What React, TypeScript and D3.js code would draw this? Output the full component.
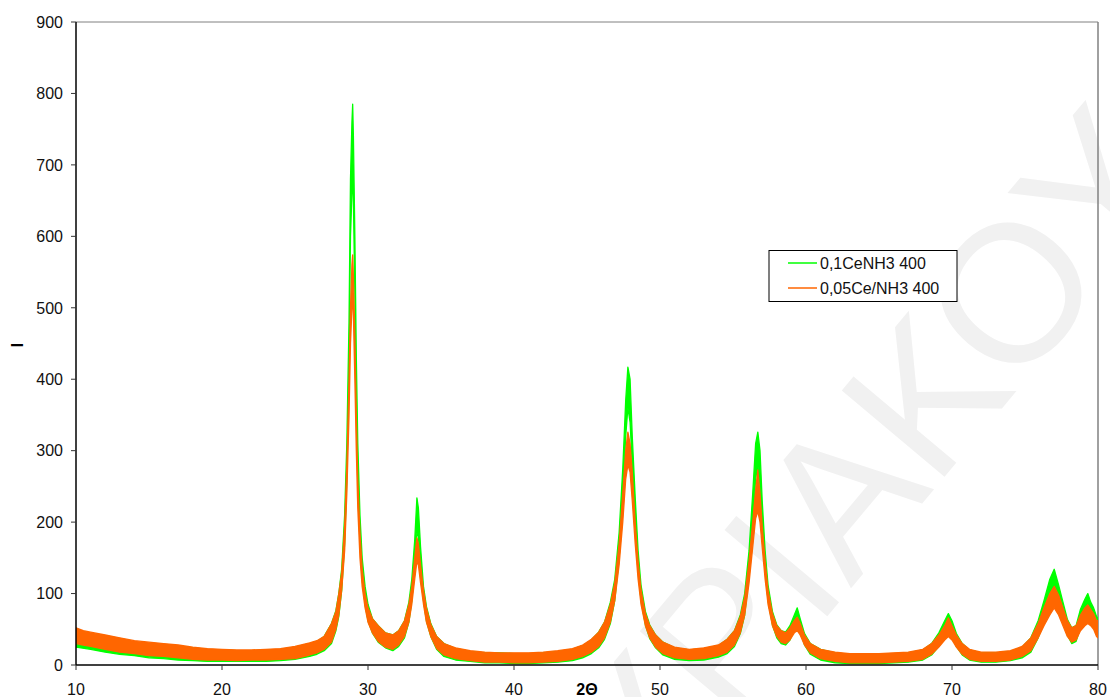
import React from "react";
import * as d3 from "d3";

// Axis ranges and ticks
const twoThetaDomain: [number, number] = [10, 80];
const intensityDomain: [number, number] = [0, 900];
const xTicks = [10, 20, 30, 40, 50, 60, 70, 80];
const yTicks = [0, 100, 200, 300, 400, 500, 600, 700, 800, 900];

const seriesNames = ["0,1CeNH3 400", "0,05Ce/NH3 400"];
const seriesColors = ["#00ff00", "#ff6600"];

// Each row: [2θ, lower edge of the noisy trace, upper edge of the noisy trace]
const ce01NH3: [number, number, number][] = [
  [10, 25, 50], [11, 22, 44], [12, 18, 40], [13, 15, 36], [14, 13, 32], [15, 10, 30],
  [16, 9, 28], [17, 7, 26], [18, 6, 24], [19, 5, 22], [20, 5, 21], [21, 5, 20],
  [22, 5, 20], [23, 5, 21], [24, 6, 22], [25, 8, 25], [26, 12, 30], [26.5, 15, 33],
  [27, 20, 40], [27.5, 30, 58], [27.8, 48, 76], [28.0, 68, 100], [28.2, 105, 135],
  [28.4, 170, 210], [28.55, 260, 310], [28.7, 420, 480], [28.8, 600, 680],
  [28.9, 660, 760], [28.95, 700, 785], [29.0, 650, 740], [29.1, 520, 600],
  [29.2, 380, 430], [29.3, 270, 310], [29.45, 170, 210], [29.6, 120, 150],
  [29.8, 85, 110], [30.0, 62, 85], [30.3, 45, 65], [30.7, 32, 55], [31.2, 24, 45],
  [31.7, 20, 42], [32.1, 26, 48], [32.5, 38, 62], [32.8, 60, 88], [33.0, 90, 120],
  [33.2, 140, 175], [33.35, 185, 234], [33.45, 180, 220], [33.6, 135, 165],
  [33.8, 90, 110], [34.0, 62, 82], [34.3, 40, 58], [34.7, 22, 40], [35.2, 12, 30],
  [36, 7, 23], [37, 5, 19], [38, 3, 17], [39, 3, 17], [40, 2, 16], [41, 2, 16],
  [42, 3, 17], [43, 4, 19], [44, 6, 22], [44.7, 10, 27], [45.3, 16, 35],
  [45.8, 24, 46], [46.2, 36, 60], [46.6, 58, 88], [46.9, 90, 120], [47.2, 150, 185],
  [47.45, 230, 275], [47.65, 320, 370], [47.8, 360, 417], [47.95, 340, 400],
  [48.1, 280, 320], [48.3, 200, 235], [48.5, 135, 160], [48.7, 90, 112],
  [49.0, 56, 75], [49.3, 37, 56], [49.7, 24, 42], [50.2, 14, 32], [51, 8, 24],
  [52, 6, 21], [53, 7, 23], [54, 11, 27], [54.6, 16, 36], [55.1, 26, 48],
  [55.5, 44, 70], [55.8, 70, 100], [56.1, 125, 160], [56.35, 195, 240],
  [56.55, 260, 310], [56.7, 280, 326], [56.85, 250, 300], [57.0, 195, 230],
  [57.2, 135, 160], [57.4, 90, 112], [57.7, 56, 75], [58.0, 38, 56], [58.3, 30, 48],
  [58.6, 28, 46], [58.9, 35, 55], [59.2, 50, 70], [59.4, 55, 80], [59.6, 48, 65],
  [59.9, 28, 44], [60.3, 15, 30], [61, 7, 22], [62, 3, 17], [63, 2, 15], [64, 2, 15],
  [65, 2, 15], [66, 3, 16], [67, 4, 17], [68, 7, 21], [68.6, 14, 30], [69.1, 26, 45],
  [69.5, 40, 62], [69.75, 48, 72], [70.0, 40, 62], [70.3, 26, 44], [70.7, 14, 30],
  [71.2, 7, 21], [72, 4, 17], [73, 4, 17], [74, 6, 19], [74.8, 10, 25],
  [75.4, 18, 38], [75.9, 38, 62], [76.3, 60, 90], [76.7, 85, 120], [77.0, 100, 134],
  [77.3, 85, 112], [77.6, 62, 88], [77.9, 42, 64], [78.2, 30, 52], [78.5, 33, 55],
  [78.8, 52, 78], [79.1, 65, 92], [79.3, 70, 100], [79.5, 62, 88], [79.7, 55, 80],
  [79.9, 45, 68], [80, 40, 65],
];

const ce005NH3: [number, number, number][] = [
  [10, 30, 52], [10.5, 28, 48], [11, 26, 46], [12, 22, 42], [13, 18, 38], [14, 16, 34],
  [15, 13, 32], [16, 12, 30], [17, 10, 28], [18, 8, 25], [19, 7, 23], [20, 7, 22],
  [21, 6, 21], [22, 7, 21], [23, 7, 22], [24, 8, 23], [25, 9, 26], [26, 14, 31],
  [26.5, 17, 34], [27, 22, 40], [27.5, 32, 58], [27.8, 50, 75], [28.0, 70, 100],
  [28.2, 105, 130], [28.4, 160, 195], [28.55, 240, 280], [28.7, 350, 400],
  [28.8, 450, 500], [28.9, 500, 560], [28.95, 520, 574], [29.0, 490, 545],
  [29.1, 400, 460], [29.2, 300, 350], [29.3, 220, 260], [29.45, 150, 185],
  [29.6, 110, 135], [29.8, 80, 100], [30.0, 60, 80], [30.3, 45, 65], [30.7, 33, 55],
  [31.2, 25, 45], [31.7, 22, 42], [32.1, 28, 48], [32.5, 40, 62], [32.8, 60, 85],
  [33.0, 85, 110], [33.2, 120, 150], [33.35, 145, 178], [33.45, 140, 170],
  [33.6, 115, 140], [33.8, 85, 105], [34.0, 60, 80], [34.3, 40, 57], [34.7, 23, 40],
  [35.2, 14, 30], [36, 9, 24], [37, 6, 20], [38, 4, 18], [39, 4, 17], [40, 3, 17],
  [41, 3, 17], [42, 4, 18], [43, 5, 20], [44, 8, 23], [44.7, 12, 28], [45.3, 18, 36],
  [45.8, 26, 46], [46.2, 38, 60], [46.6, 60, 85], [46.9, 90, 115], [47.2, 140, 170],
  [47.45, 200, 240], [47.65, 260, 300], [47.8, 280, 326], [47.95, 270, 310],
  [48.1, 230, 270], [48.3, 170, 200], [48.5, 120, 145], [48.7, 85, 105],
  [49.0, 55, 72], [49.3, 38, 55], [49.7, 25, 42], [50.2, 16, 32], [51, 10, 25],
  [52, 8, 22], [53, 9, 24], [54, 13, 28], [54.6, 18, 36], [55.1, 28, 48],
  [55.5, 45, 68], [55.8, 70, 95], [56.1, 115, 145], [56.35, 165, 200],
  [56.55, 205, 245], [56.7, 215, 273], [56.85, 200, 240], [57.0, 165, 195],
  [57.2, 120, 145], [57.4, 85, 105], [57.7, 55, 72], [58.0, 40, 55], [58.3, 32, 48],
  [58.6, 30, 45], [58.9, 35, 52], [59.2, 45, 62], [59.4, 48, 67], [59.6, 42, 58],
  [59.9, 28, 42], [60.3, 17, 30], [61, 9, 22], [62, 5, 18], [63, 3, 16], [64, 3, 16],
  [65, 3, 16], [66, 4, 17], [67, 5, 18], [68, 8, 22], [68.6, 15, 30], [69.1, 25, 42],
  [69.5, 35, 55], [69.75, 40, 66], [70.0, 35, 55], [70.3, 25, 42], [70.7, 15, 30],
  [71.2, 8, 22], [72, 5, 18], [73, 5, 18], [74, 7, 20], [74.8, 12, 26],
  [75.4, 20, 38], [75.9, 38, 58], [76.3, 55, 80], [76.7, 70, 100], [77.0, 80, 110],
  [77.3, 70, 98], [77.6, 55, 80], [77.9, 40, 62], [78.2, 32, 52], [78.5, 35, 55],
  [78.8, 48, 70], [79.1, 55, 80], [79.3, 58, 84], [79.5, 55, 78], [79.7, 50, 72],
  [79.9, 40, 62], [80, 38, 62],
];

const seriesData = [ce01NH3, ce005NH3];

const W = 1110;
const H = 697;
const plot = { left: 76, right: 1098, top: 22, bottom: 665 };
const FONT = "'Liberation Sans', Arial, Helvetica, sans-serif";

export default function App() {
  const x = d3.scaleLinear().domain(twoThetaDomain).range([plot.left, plot.right]);
  const y = d3.scaleLinear().domain(intensityDomain).range([plot.bottom, plot.top]);

  const band = d3
    .area<[number, number, number]>()
    .x((d) => x(d[0]))
    .y0((d) => y(d[1]))
    .y1((d) => y(d[2]));

  return (
    <svg
      width={W}
      height={H}
      style={{ position: "absolute", left: 0, top: 0, display: "block", background: "#fff" }}
      fontFamily={FONT}
    >
      {/* faint background watermark */}
      <text
        x={565}
        y={929}
        transform="rotate(-50 565 929)"
        fontSize={195}
        fill="#f1f1f1"
        fontFamily={FONT}
      >
        ΚΥΡΙΑΚΟΥ
      </text>

      <defs>
        <clipPath id="plot-clip">
          <rect x={plot.left} y={plot.top - 2} width={plot.right - plot.left} height={plot.bottom - plot.top + 2} />
        </clipPath>
      </defs>

      {/* frame: grey top and right edges */}
      <line x1={plot.left} x2={plot.right} y1={plot.top} y2={plot.top} stroke="#808080" strokeWidth={1} />
      <line x1={plot.right} x2={plot.right} y1={plot.top} y2={plot.bottom} stroke="#808080" strokeWidth={1.5} />

      {/* diffraction traces */}
      <g clipPath="url(#plot-clip)">
        {seriesData.map((s, i) => (
          <path
            key={seriesNames[i]}
            d={band(s) ?? ""}
            fill={seriesColors[i]}
            stroke={seriesColors[i]}
            strokeWidth={1.3}
            strokeLinejoin="round"
          />
        ))}
      </g>

      {/* y axis */}
      <line x1={plot.left} x2={plot.left} y1={plot.top} y2={plot.bottom} stroke="#000" strokeWidth={1.5} />
      {yTicks.map((t) => (
        <g key={t}>
          <line x1={plot.left - 5} x2={plot.left} y1={y(t)} y2={y(t)} stroke="#333" strokeWidth={1} />
          <text x={plot.left - 13} y={y(t)} dy="0.36em" textAnchor="end" fontSize={16} fill="#111">
            {t}
          </text>
        </g>
      ))}

      {/* x axis */}
      <line x1={plot.left} x2={plot.right} y1={plot.bottom} y2={plot.bottom} stroke="#000" strokeWidth={1.5} />
      {xTicks.map((t) => (
        <g key={t}>
          <line x1={x(t)} x2={x(t)} y1={plot.bottom} y2={plot.bottom + 5} stroke="#333" strokeWidth={1} />
          <text x={x(t)} y={695} textAnchor="middle" fontSize={16} fill="#111">
            {t}
          </text>
        </g>
      ))}

      {/* axis titles */}
      <text x={587} y={695} textAnchor="middle" fontSize={16} fontWeight="bold" fill="#000">
        2Θ
      </text>
      <text
        x={0}
        y={0}
        transform="translate(23 345) rotate(-90)"
        textAnchor="middle"
        fontSize={16}
        fontWeight="bold"
        fill="#000"
      >
        I
      </text>

      {/* legend */}
      <g>
        <rect x={769} y={250.5} width={188} height={51} fill="#fff" stroke="#000" strokeWidth={1} />
        {seriesNames.map((name, i) => (
          <g key={name}>
            <line
              x1={788}
              x2={817}
              y1={263 + i * 25}
              y2={263 + i * 25}
              stroke={seriesColors[i]}
              strokeWidth={1.5}
            />
            <text x={820} y={263 + i * 25} dy="0.36em" fontSize={16} fill="#111">
              {name}
            </text>
          </g>
        ))}
      </g>
    </svg>
  );
}
